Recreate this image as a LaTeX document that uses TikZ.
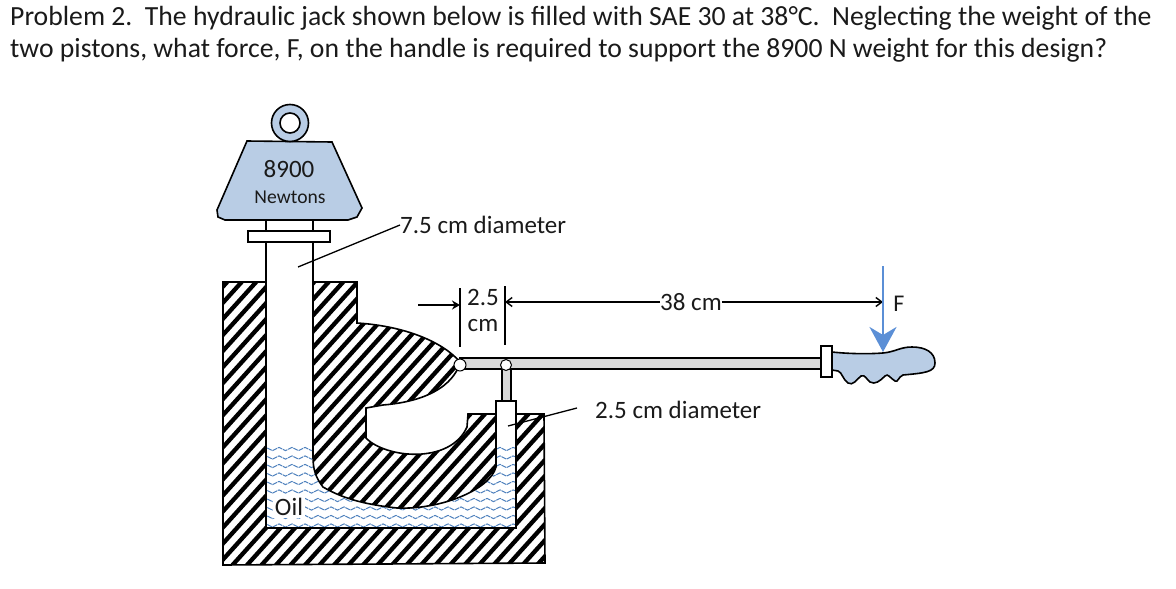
\documentclass[tikz,border=0pt]{standalone}
\usepackage{fontspec}
\setmainfont{Carlito}
\usetikzlibrary{arrows.meta, decorations.pathmorphing}
\definecolor{weightblue}{HTML}{B9CDE5}
\definecolor{oilblue}{HTML}{4F81BD}
\definecolor{forceblue}{HTML}{5B8FD6}
\definecolor{bargray}{HTML}{D9D9D9}
\definecolor{inkgray}{HTML}{1A1A1A}
\tikzset{
	outline/.style={draw=black, line width=1.6pt},
	leader/.style={draw=black, line width=1.3pt},
	dimarrow/.style={line width=1.4pt, -{Straight Barb[length=6pt,width=9pt]}},
	solidarrow/.style={line width=1.6pt, -{Stealth[length=8pt,width=9pt]}},
	wave/.style={draw=oilblue, line width=1pt, dash pattern=on 5pt off 0.8pt, decorate, decoration={snake, segment length=13pt, amplitude=1.6pt}},
	label/.style={text=inkgray, font=\fontsize{25}{28}\selectfont, inner sep=0pt},
	title/.style={text=inkgray, font=\fontsize{27.7}{30}\selectfont, inner sep=0pt, anchor=base west}
}
\newcommand{\casingpath}{(223,282) -- (266,282) -- (266,528) -- (516,528) -- (516,414) -- (544,414) -- (545,563) -- (223,565) -- cycle}
\newcommand{\islandpath}{(313,282) -- (357,282) -- (357,323) .. controls (405,326) and (443,342) .. (460,362) .. controls (458,372) and (445,400) .. (383,405) -- (366,408) -- (366,438) .. controls (385,458) and (450,465) .. (467,427) -- (468,414) -- (496,414) -- (496,467) .. controls (490,490) and (440,510) .. (397,508) .. controls (370,505) and (345,500) .. (323,487) .. controls (316,478) and (313,470) .. (313,457) -- cycle}
\begin{document}
\begin{tikzpicture}[x=1pt,y=-1pt]
\useasboundingbox (0,0) rectangle (1176,589);
\node[title] (line1) at (10,25) {Problem 2.\ \ The hydraulic jack shown below is filled with SAE 30 at 38°C.\ \ Neglecting the weight of the};
\node[title] (line2) at (10,57) {two pistons, what force, F, on the handle is required to support the 8900 N weight for this design?};

\begin{scope}
\clip (266,445) -- (313,445) -- (313,457) .. controls (313,470) and (316,478) .. (323,487) .. controls (345,500) and (370,505) .. (397,508) .. controls (440,510) and (490,490) .. (496,467) -- (496,445) -- (516,445) -- (516,528) -- (266,528) -- cycle;
\foreach \y in {449,457.5,...,526}
	\draw[wave] (262,\y) -- (520,\y);
\end{scope}
\begin{scope}
\clip \casingpath \islandpath;
\foreach \x in {-300,-285.5,...,360}
	\draw[black, line width=4.3pt] (\x+200,580) -- (\x+480,270);
\end{scope}
\draw[outline] \casingpath;
\draw[outline] \islandpath;

\draw[outline, fill=white] (248,231) rectangle (330,242);
\draw[outline] (266,220) -- (266,231) (313,220) -- (313,231) (266,242) -- (266,282) (313,242) -- (313,282);
\draw[outline, fill=weightblue] (247,141) -- (332,142) -- (362,208) -- (357,217) -- (348,220) -- (225,220) -- (218,217) -- (217,210) -- cycle;
\draw[outline, fill=weightblue] (290,123) circle (18.5);
\draw[outline, fill=white] (290,123) circle (10);
\node[label] (wnum) at (289,169) {8900};
\node[label, font=\fontsize{19.6}{22}\selectfont] (wunit) at (290,197) {Newtons};

\draw[outline, fill=bargray, line width=1.1pt] (460,358) rectangle (822,369);
\draw[outline, fill=bargray, line width=1.1pt] (502,369) rectangle (511,401);
\draw[outline, fill=white] (496,445) -- (496,401) -- (516,401) -- (516,445);
\node[circle, draw=black, line width=1pt, fill=white, minimum size=12pt, inner sep=0pt] (pivot) at (460,365) {};
\node[circle, draw=black, line width=1pt, fill=white, minimum size=11pt, inner sep=0pt] (pin) at (506,365) {};

\draw[outline, fill=weightblue] (832,352) .. controls (850,354) and (870,354) .. (883,353) .. controls (895,352) and (900,347) .. (912,347) .. controls (925,347) and (935,352) .. (935,363) .. controls (935,372) and (925,373) .. (903,375) .. controls (898,377) and (898,383) .. (895,381) .. controls (890,378) and (888,373) .. (885,376) .. controls (880,381) and (875,385) .. (870,382) .. controls (867,380) and (865,374) .. (861,376) .. controls (856,380) and (853,386) .. (848,383) .. controls (843,380) and (842,372) .. (838,371) -- (832,370) -- cycle;
\draw[outline, fill=white] (821,346) rectangle (832,377);

\node[label, anchor=west] (dia75) at (400,225) {7.5 cm diameter};
\node[label, anchor=west] (dia25) at (595,410) {2.5 cm diameter};
\node[label] (num25) at (483,297) {2.5};
\node[label] (unit25) at (483,326) {cm};
\node[label] (num38) at (691,302) {38 cm};
\node[label, font=\fontsize{24}{26}\selectfont] (forcelab) at (899,304) {F};
\node[label, fill=white, inner sep=2pt] (oillab) at (289,507) {Oil};

\coordinate (bigpiston) at (298,267);
\coordinate (smallpiston) at (508,426);
\coordinate (smallend) at (577,408);
\coordinate (dimtopa) at (460,288);
\coordinate (dimbota) at (460,347);
\coordinate (dimtopb) at (505,286);
\coordinate (dimbotb) at (505,345);
\coordinate (arrowa) at (418,305);
\coordinate (arrowaend) at (460,305);
\coordinate (arrowb) at (505,302);
\coordinate (arrowc) at (883,302);
\coordinate (forcetop) at (883,266);
\coordinate (forcetip) at (883,352);

\draw[leader] (dia75.west) -- (bigpiston);
\draw[leader] (smallend) -- (smallpiston);
\draw[leader] (dimtopa) -- (dimbota);
\draw[leader] (dimtopb) -- (dimbotb);
\draw[solidarrow] (arrowa) -- (arrowaend);
\draw[dimarrow] (num38.west) -- (arrowb);
\draw[dimarrow] (num38.east) -- (arrowc);
\draw[forceblue, line width=2.6pt, -{Stealth[length=25pt,width=27pt,inset=8pt]}] (forcetop) -- (forcetip);
\end{tikzpicture}
\end{document}
